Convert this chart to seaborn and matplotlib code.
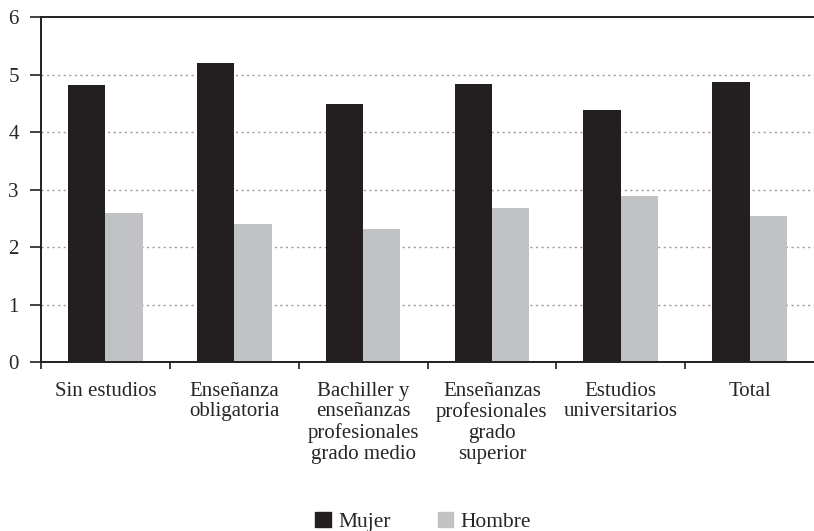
import matplotlib
matplotlib.use("Agg")
import matplotlib.pyplot as plt
import pandas as pd
import seaborn as sns

# data
categories = [
    "Sin estudios",
    "Enseñanza\nobligatoria",
    "Bachiller y\nenseñanzas\nprofesionales\ngrado medio",
    "Enseñanzas\nprofesionales\ngrado\nsuperior",
    "Estudios\nuniversitarios",
    "Total",
]
mujer = [4.82, 5.20, 4.48, 4.83, 4.38, 4.87]
hombre = [2.59, 2.40, 2.32, 2.68, 2.89, 2.54]
series = ["Mujer", "Hombre"]
colors = ["#231f20", "#c1c2c4"]

df = pd.DataFrame({
    "cat": categories * 2,
    "serie": [series[0]] * len(categories) + [series[1]] * len(categories),
    "valor": mujer + hombre,
})

sns.set_style("white")
plt.rcParams["font.family"] = ["Liberation Serif", "DejaVu Serif"]

fig = plt.figure(figsize=(8.14, 5.31), dpi=100)
ax = fig.add_axes([0.0504, 0.318, 0.9496, 0.650])

sns.barplot(data=df, x="cat", y="valor", hue="serie", palette=colors,
            width=0.58, saturation=1, linewidth=0, ax=ax, legend=False)

ax.set_xlim(-0.5, len(categories) - 0.5)
ax.set_ylim(0, 6)
ax.set_yticks(range(0, 7))
ax.set_xlabel("")
ax.set_ylabel("")

# dotted grid
for v in range(1, 6):
    ax.axhline(v, color="#9a9a9a", linestyle=(0, (1.5, 2.5)), linewidth=1, zorder=0)

for side in ["left", "bottom", "top"]:
    ax.spines[side].set_visible(True)
    ax.spines[side].set_color("#231f20")
    ax.spines[side].set_linewidth(1.4)
ax.spines["right"].set_visible(False)

ax.set_xticks(range(len(categories)))
ax.set_xticklabels(categories, fontsize=15, linespacing=1.13)
ax.set_xticks([i - 0.5 for i in range(len(categories))], minor=True)
ax.tick_params(axis="x", which="major", length=0, pad=14)
ax.tick_params(axis="x", which="minor", length=5, width=1.2, color="#231f20",
               direction="out", bottom=True)
ax.tick_params(axis="y", length=8, width=1.2, color="#231f20", direction="out",
               left=True, labelsize=15, pad=8)

handles = [plt.Rectangle((0, 0), 1, 1, color=c) for c in colors]
fig.legend(handles, series, loc="lower center", bbox_to_anchor=(0.52, -0.038),
           ncol=2, frameon=False, fontsize=15.5, handlelength=0.7, handleheight=0.7,
           columnspacing=2.2, handletextpad=0.35)

fig.savefig("out.png", dpi=100)
